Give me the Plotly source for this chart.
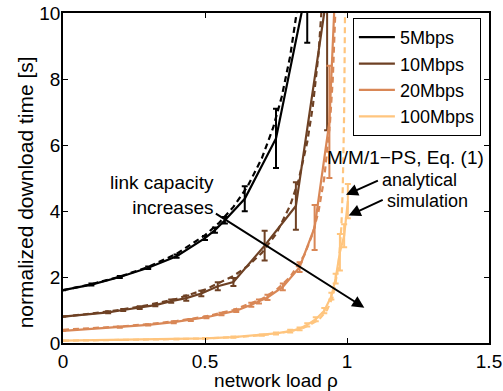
import plotly.graph_objects as go

# ---- simulation results (mean and confidence half-width) ----
rho_5 = [0, 0.1, 0.2, 0.3, 0.4, 0.5, 0.535, 0.57, 0.64, 0.75, 0.86]
t_5 = [1.6, 1.77, 2.0, 2.28, 2.63, 3.18, 3.42, 3.72, 4.37, 6.2, 10.85]
e_5 = [0, 0.03, 0.03, 0.04, 0.05, 0.06, 0.08, 0.1, 0.38, 0.9, 1.75]

rho_10 = [0, 0.159, 0.212, 0.27, 0.325, 0.381, 0.434, 0.487, 0.545, 0.6, 0.71, 0.82, 0.93]
t_10 = [0.8, 0.93, 1.0, 1.07, 1.15, 1.27, 1.36, 1.5, 1.72, 1.85, 2.95, 4.15, 10.6]
e_10 = [0, 0.03, 0.03, 0.04, 0.04, 0.05, 0.08, 0.08, 0.12, 0.12, 0.45, 0.72, 4.15]

rho_20 = [0, 0.2, 0.3, 0.39, 0.45, 0.505, 0.558, 0.61, 0.663, 0.69, 0.72, 0.774, 0.833, 0.886, 0.938, 0.99]
t_20 = [0.37, 0.48, 0.55, 0.63, 0.7, 0.78, 0.88, 0.98, 1.16, 1.26, 1.38, 1.7, 2.3, 3.5, 6.7, 17]
e_20 = [0, 0.02, 0.02, 0.03, 0.03, 0.03, 0.04, 0.04, 0.06, 0.06, 0.08, 0.1, 0.15, 0.68, 1.7, 3]

rho_100 = [0, 0.2, 0.4, 0.5, 0.6, 0.7, 0.75, 0.8, 0.833, 0.86, 0.89, 0.92, 0.945, 0.96, 0.975, 0.99, 1.003]
t_100 = [0.07, 0.09, 0.12, 0.14, 0.18, 0.24, 0.29, 0.36, 0.43, 0.55, 0.72, 0.98, 1.42, 1.95, 2.75, 3.25, 4.3]
e_100 = [0, 0, 0.01, 0.01, 0.02, 0.02, 0.03, 0.04, 0.04, 0.05, 0.06, 0.08, 0.1, 0.15, 0.55, 0.35, 0.52]

# ---- M/M/1-PS analytical curves, Eq. (1) ----
arho_5 = [0, 0.1, 0.2, 0.3, 0.4, 0.5, 0.55, 0.6, 0.65, 0.7, 0.74, 0.77, 0.8, 0.815, 0.83]
at_5 = [1.6, 1.782, 2.01, 2.305, 2.703, 3.265, 3.645, 4.124, 4.748, 5.594, 6.525, 7.456, 8.696, 9.484, 10.43]

arho_10 = [0, 0.1, 0.2, 0.3, 0.4, 0.5, 0.6, 0.65, 0.7, 0.75, 0.8, 0.83, 0.86, 0.88, 0.9, 0.92]
at_10 = [0.8, 0.89, 1.003, 1.148, 1.342, 1.616, 2.03, 2.329, 2.73, 3.299, 4.167, 4.947, 6.088, 7.194, 8.791, 11.3]

arho_20 = [0, 0.1, 0.2, 0.3, 0.4, 0.5, 0.6, 0.7, 0.75, 0.8, 0.85, 0.88, 0.9, 0.92, 0.94, 0.95, 0.96, 0.965]
at_20 = [0.4, 0.444, 0.5, 0.571, 0.667, 0.8, 1.0, 1.333, 1.6, 2.0, 2.667, 3.333, 4.0, 5.0, 6.667, 8.0, 10.0, 11.43]

arho_100 = [0, 0.2, 0.4, 0.5, 0.6, 0.7, 0.8, 0.85, 0.9, 0.93, 0.95, 0.97, 0.98, 0.985, 0.99, 0.993, 0.995]
at_100 = [0.07, 0.0875, 0.117, 0.14, 0.175, 0.233, 0.35, 0.467, 0.7, 1.0, 1.4, 2.333, 3.5, 4.667, 7.0, 10.0, 14.0]

names = ["5Mbps", "10Mbps", "20Mbps", "100Mbps"]
colors = ["#000000", "#6E4124", "#D98756", "#FFC57E"]

sim = [(rho_5, t_5, e_5), (rho_10, t_10, e_10), (rho_20, t_20, e_20), (rho_100, t_100, e_100)]
ana = [(arho_5, at_5), (arho_10, at_10), (arho_20, at_20), (arho_100, at_100)]

FONT = "Liberation Sans, Arial, Helvetica, sans-serif"
FS = 19

fig = go.Figure()

for name, col, (ax_, ay_) in zip(names, colors, ana):
    fig.add_trace(go.Scatter(
        x=ax_, y=ay_, mode="lines", showlegend=False, hoverinfo="skip",
        line=dict(color=col, width=2.2, dash="6px,4px"),
    ))

for name, col, (sx, sy, se) in zip(names, colors, sim):
    fig.add_trace(go.Scatter(
        x=sx, y=sy, mode="lines", name=name,
        line=dict(color=col, width=2.2),
        error_y=dict(type="data", array=se, visible=True, color=col,
                     thickness=2, width=3),
    ))

ann_font = dict(family=FONT, size=FS, color="black")
small_font = dict(family=FONT, size=18, color="black")

annotations = [
    dict(x=0.537, y=4.49, xref="x", yref="y", text="link capacity<br>increases",
         showarrow=False, xanchor="right", yanchor="middle", align="right",
         font=ann_font),
    dict(x=1.061, y=1.07, ax=0.533, ay=3.95, xref="x", yref="y",
         axref="x", ayref="y", text="", showarrow=True, arrowhead=2,
         arrowsize=1.2, arrowwidth=2, arrowcolor="black"),
    dict(x=1.207, y=5.63, xref="x", yref="y", text="M/M/1\u2212PS, Eq. (1)",
         showarrow=False, font=ann_font),
    dict(x=1.254, y=4.94, xref="x", yref="y", text="analytical",
         showarrow=False, font=small_font),
    dict(x=1.284, y=4.30, xref="x", yref="y", text="simulation",
         showarrow=False, font=small_font),
    dict(x=0.9965, y=4.49, ax=1.114, ay=4.94, xref="x", yref="y",
         axref="x", ayref="y", text="", showarrow=True, arrowhead=2,
         arrowsize=1.2, arrowwidth=2, arrowcolor="black"),
    dict(x=1.006, y=3.86, ax=1.131, ay=4.36, xref="x", yref="y",
         axref="x", ayref="y", text="", showarrow=True, arrowhead=2,
         arrowsize=1.2, arrowwidth=2, arrowcolor="black"),
    # y-axis label
    dict(x=-0.088, y=0.455, xref="paper", yref="paper",
         text="normalized download time [s]", textangle=-90,
         showarrow=False, xanchor="center", yanchor="middle",
         font=dict(family=FONT, size=21, color="black")),
]

axis_common = dict(
    showline=True, linecolor="black", linewidth=1.5, mirror="ticks",
    ticks="inside", ticklen=5, tickwidth=1, tickcolor="black",
    showgrid=False, zeroline=False, automargin=False,
    tickfont=dict(family=FONT, size=FS, color="black"),
)

fig.update_layout(
    width=503, height=391,
    margin=dict(l=63, r=14, t=13, b=48, autoexpand=False),
    paper_bgcolor="white", plot_bgcolor="white",
    font=dict(family=FONT, size=FS, color="black"),
    xaxis=dict(range=[0, 1.5], tickvals=[0, 0.5, 1, 1.5], ticktext=["0", "0.5", "1", "1.5"],
               title=dict(text="network load \u03c1", font=dict(family=FONT, size=FS), standoff=0),
               **axis_common),
    yaxis=dict(range=[0, 10], tickvals=[0, 2, 4, 6, 8, 10], ticklabelstandoff=-3,
               **axis_common),
    legend=dict(x=0.981, y=0.985, xanchor="right", yanchor="top",
                bgcolor="white", bordercolor="black", borderwidth=1,
                font=dict(family=FONT, size=18, color="black"),
                tracegroupgap=0, itemwidth=36),
    annotations=annotations,
    showlegend=True,
)

fig.write_html("out.html")
